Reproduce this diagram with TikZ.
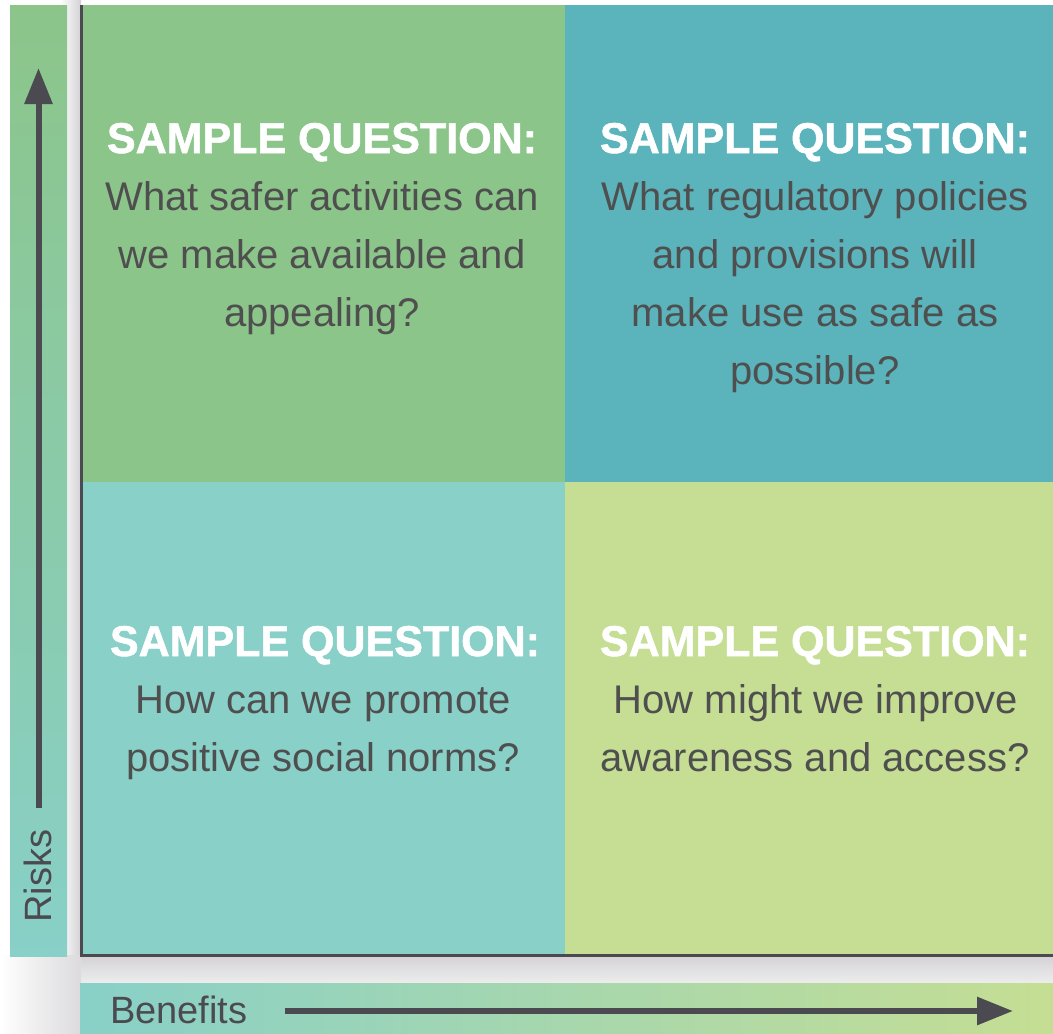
\documentclass[tikz,border=0pt]{standalone}
\usepackage{fontspec}
\setmainfont{Liberation Sans}
\newfontfamily\hdrfont{Liberation Sans}[BoldFeatures={FakeBold=1.3}]
\usetikzlibrary{arrows.meta}
\definecolor{tlgreen}{HTML}{8CC58A}
\definecolor{trblue}{HTML}{5BB3BC}
\definecolor{blteal}{HTML}{88D0C8}
\definecolor{brlime}{HTML}{C5DE93}
\definecolor{axisdark}{HTML}{4B4A50}
\definecolor{bodytext}{HTML}{4F4F4F}
\definecolor{gapgray}{HTML}{D3D1D4}
\tikzset{
  hdr/.style={anchor=base, inner sep=0pt, text=white, font=\hdrfont\fontsize{43}{50}\selectfont\bfseries},
  bodyline/.style={anchor=base, inner sep=0pt, text=bodytext, font=\fontsize{40}{58}\selectfont},
  axislabel/.style={inner sep=0pt, text=axisdark, font=\fontsize{38}{44}\selectfont},
  axisarrow/.style={draw=axisdark, line width=6pt, -{Triangle[length=36pt, width=27pt]}},
}
\begin{document}
\begin{tikzpicture}[x=1pt, y=-1pt]
\useasboundingbox (0,0) rectangle (1053,1034);
\fill[white] (0,0) rectangle (1053,1034);
% shadow gaps
\shade[left color=white, right color=gapgray] (60,0) rectangle (81,990);
\shade[top color=gapgray, bottom color=white!60!gapgray] (81,955) rectangle (1053,983);
\shade[left color=white, right color=gapgray!80] (0,955) rectangle (81,1034);
% side bar and bottom bar
\shade[top color=tlgreen, bottom color=blteal] (10,5) rectangle (67,956);
\shade[left color=blteal, right color=brlime] (80,983) rectangle (1053,1034);
% quadrants
\fill[tlgreen] (83,5) rectangle (565,482);
\fill[trblue] (565,5) rectangle (1053,482);
\fill[blteal] (83,482) rectangle (565,955);
\fill[brlime] (565,482) rectangle (1053,955);
% axis lines
\coordinate (axtop) at (81.5,5);
\coordinate (axcorner) at (81.5,955.5);
\coordinate (axright) at (1053,955.5);
\draw[axisdark, line width=3pt] (axtop) -- (axcorner) -- (axright);
% arrows
\coordinate (riskstart) at (38.5,808);
\coordinate (riskend) at (38.5,68);
\draw[axisarrow] (riskstart) -- (riskend);
\coordinate (benstart) at (285,1011);
\coordinate (benend) at (1013,1011);
\draw[axisarrow] (benstart) -- (benend);
\node[axislabel, rotate=90, anchor=base] (risks) at (51,876) {Risks};
\node[axislabel, anchor=base west] (benefits) at (110,1023) {Benefits};
% top left
\node[hdr] (tlh) at (322,153) {SAMPLE QUESTION:};
\node[bodyline] (tl1) at (322,210) {What safer activities can};
\node[bodyline] (tl2) at (322,268) {we make available and};
\node[bodyline] (tl3) at (322,326) {appealing?};
% top right
\node[hdr] (trh) at (815,153) {SAMPLE QUESTION:};
\node[bodyline] (tr1) at (815,210) {What regulatory policies};
\node[bodyline] (tr2) at (815,268) {and provisions will};
\node[bodyline] (tr3) at (815,326) {make use as safe as};
\node[bodyline] (tr4) at (815,384) {possible?};
% bottom left
\node[hdr] (blh) at (325,656) {SAMPLE QUESTION:};
\node[bodyline] (bl1) at (323,713) {How can we promote};
\node[bodyline] (bl2) at (323,771) {positive social norms?};
% bottom right
\node[hdr] (brh) at (815,656) {SAMPLE QUESTION:};
\node[bodyline] (br1) at (816,713) {How might we improve};
\node[bodyline] (br2) at (815,771) {awareness and access?};
\end{tikzpicture}
\end{document}
